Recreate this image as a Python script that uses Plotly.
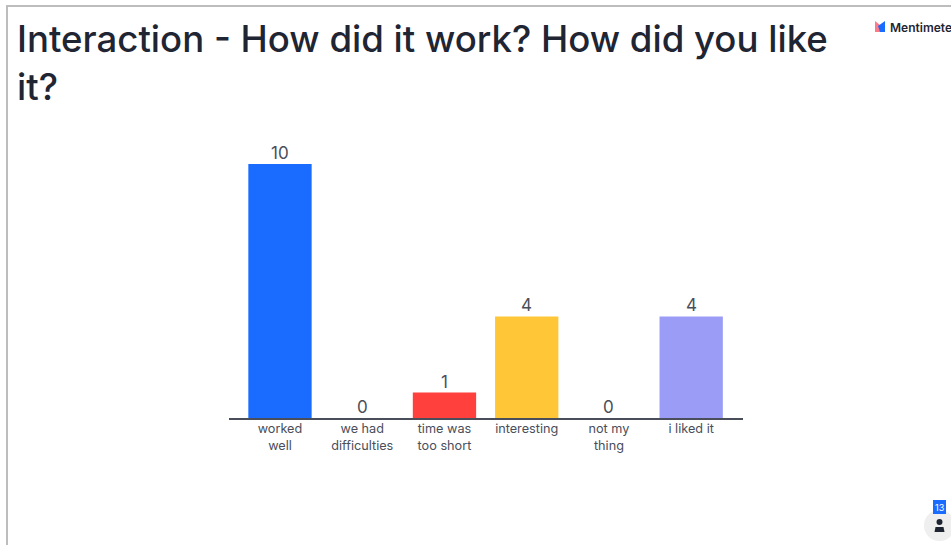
import plotly.graph_objects as go

categories = ["worked<br>well", "we had<br>difficulties", "time was<br>too short", "interesting", "not my<br>thing", "i liked it"]
votes = [10, 0, 1, 4, 0, 4]
bar_colors = ["#196CFF", "#196CFF", "#FF403D", "#FFC738", "#FFC738", "#9A9CF5"]
title_text = "Interaction - How did it work? How did you like<br>it?"
brand = "Mentimete"
badge = "13"

W, H = 951, 545
L, R, T, B = 229, 743, 164, 418
def px(x): return (x - L) / (R - L)
def py(y): return (B - y) / (B - T)

fig = go.Figure(go.Bar(
    x=list(range(6)), y=votes, width=0.77,
    marker=dict(color=bar_colors, line_width=0),
    cliponaxis=False,
))

shapes = [
    dict(type="line", xref="paper", yref="paper", x0=px(6), x1=px(951), y0=py(6), y1=py(6), line=dict(color="#BDBDBD", width=2)),
    dict(type="line", xref="paper", yref="paper", x0=px(7), x1=px(7), y0=py(6), y1=py(545), line=dict(color="#BDBDBD", width=2)),
    # logo
    dict(type="path", xref="paper", yref="paper",
         path=f"M {px(875)} {py(21)} L {px(880)} {py(25)} L {px(880)} {py(32)} L {px(875)} {py(32)} Z",
         fillcolor="#FF7A85", line_width=0),
    dict(type="path", xref="paper", yref="paper",
         path=f"M {px(878)} {py(26)} L {px(885)} {py(21)} L {px(885)} {py(32)} L {px(880)} {py(32)} Z",
         fillcolor="#196CFF", line_width=0),
    # user badge
    dict(type="circle", xref="paper", yref="paper", x0=px(924), x1=px(955), y0=py(510), y1=py(541), fillcolor="#EFEFEF", line_width=0),
    dict(type="rect", xref="paper", yref="paper", x0=px(933), x1=px(946), y0=py(500), y1=py(514), fillcolor="#196CFF", line_width=0),
    dict(type="circle", xref="paper", yref="paper", x0=px(936.5), x1=px(942.5), y0=py(519), y1=py(525), fillcolor="#1F2533", line_width=0),
    dict(type="path", xref="paper", yref="paper",
         path=f"M {px(934.5)} {py(532)} L {px(935.5)} {py(527)} L {px(943.5)} {py(527)} L {px(944.5)} {py(532)} Z",
         fillcolor="#1F2533", line_width=0),
]

annotations = [
    dict(text=title_text, xref="paper", yref="paper", x=px(15), y=py(15), xanchor="left", yanchor="top", align="left",
         showarrow=False, font=dict(family="Inter", size=36.6, color="#1F2533", weight=500)),
    dict(text=brand, xref="paper", yref="paper", x=px(887.5), y=py(27), xanchor="left", yanchor="middle",
         showarrow=False, font=dict(family="Inter", size=12, color="#1F2533", weight=600)),
    dict(text=badge, xref="paper", yref="paper", x=px(939.5), y=py(507), xanchor="center", yanchor="middle",
         showarrow=False, font=dict(family="Inter", size=9, color="#FFFFFF")),
]
for i, v in enumerate(votes):
    annotations.append(dict(text=str(v), x=i, y=v, xref="x", yref="y", yanchor="bottom", yshift=-1,
                            showarrow=False, font=dict(family="Inter", size=17, color="#4A4E5A")))

fig.update_layout(
    width=W, height=H, showlegend=False, paper_bgcolor="white", plot_bgcolor="white",
    margin=dict(l=L, r=W - R, t=T, b=H - B, autoexpand=False),
    xaxis=dict(range=[-0.62, 5.63], tickmode="array", tickvals=list(range(6)), ticktext=categories,
               ticks="", showgrid=False, zeroline=False, showline=True, linecolor="#4A4E5A", linewidth=2,
               ticklabelstandoff=-2,
               tickfont=dict(family="Inter", size=12.7, color="#4A4E5A")),
    yaxis=dict(range=[0, 10], visible=False),
    shapes=shapes, annotations=annotations,
)
fig.write_html("out.html", config={"displayModeBar": False},
               post_script="document.body.style.margin='0';document.documentElement.style.overflow='hidden';")
